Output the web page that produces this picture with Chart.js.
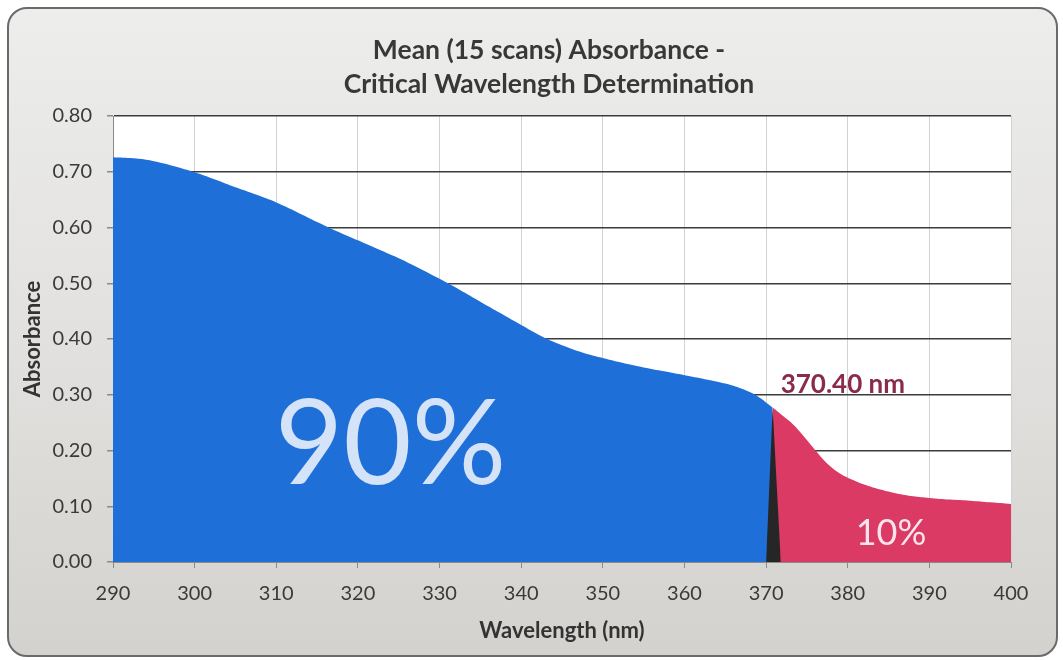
<!DOCTYPE html>
<html><head><meta charset="utf-8">
<script src="https://cdn.jsdelivr.net/npm/chart.js@4.4.1/dist/chart.umd.min.js"></script>
<style>
html,body{margin:0;padding:0;background:#fff;overflow:hidden;width:1063px;height:660px;}
#frame{position:absolute;left:7px;top:7px;width:1051px;height:650px;box-sizing:border-box;border:2px solid #6a6a6a;border-radius:20px;background:linear-gradient(180deg,#ededec 0%,#e1e0de 55%,#d4d2ce 100%);}
#wrap{position:absolute;left:10px;top:10px;width:1078px;height:644px;}
</style></head><body>
<div id="frame"></div>
<div id="wrap"><canvas id="c"></canvas></div>
<script>
// ---- data ----
const wavelengthsBlue = [290, 292.5, 295, 297.5, 300, 302.5, 305, 307.5, 310, 312.5, 315, 317.5, 320, 322.5, 325, 327.5, 330, 332.5, 335, 337.5, 340, 342.5, 345, 347.5, 350, 352.5, 355, 357.5, 360, 362.5, 365, 367.5, 369, 370.8];
const absorbanceBlue = [0.726, 0.724, 0.719, 0.710, 0.699, 0.686, 0.672, 0.659, 0.645, 0.628, 0.610, 0.593, 0.577, 0.561, 0.545, 0.527, 0.508, 0.488, 0.467, 0.446, 0.425, 0.405, 0.389, 0.376, 0.366, 0.357, 0.349, 0.342, 0.335, 0.328, 0.320, 0.308, 0.297, 0.277];
const wavelengthsRed = [370.8, 372, 373, 374, 375, 376, 377, 378, 379, 380, 381, 382, 384, 386, 388, 390, 392.5, 395, 397.5, 400];
const absorbanceRed = [0.277, 0.263, 0.251, 0.236, 0.219, 0.201, 0.184, 0.170, 0.159, 0.151, 0.145, 0.139, 0.130, 0.123, 0.118, 0.115, 0.112, 0.110, 0.107, 0.104];
const wedgeWavelengths = [370.0, 370.8, 371.8];
const wedgeAbsorbance = [0, 0.277, 0];
const xTickValues = [290, 300, 310, 320, 330, 340, 350, 360, 370, 380, 390, 400];
const yTickValues = [0.0, 0.1, 0.2, 0.3, 0.4, 0.5, 0.6, 0.7, 0.8];
const titleLines = ['Mean (15 scans) Absorbance -', 'Critical Wavelength Determination'];
const xAxisTitle = 'Wavelength (nm)';
const yAxisTitle = 'Absorbance';
const annotationTexts = ['90%', '10%', '370.40 nm'];
const annotationX = [324, 385.3, 379.4];
const annotationY = [0.209, 0.051, 0.318];

const toPoints = (xs, ys) => xs.map((x, i) => ({x: x, y: ys[i]}));

const annotationStyles = [
  {font: '118px Lato', color: 'rgba(232,240,252,0.9)'},
  {font: '36px Lato', color: 'rgba(250,238,243,0.95)'},
  {font: 'bold 26px Lato', color: '#8a2b4c'}
];

const plotBg = {
  id: 'plotBg',
  beforeDraw(chart) {
    const {ctx, chartArea: a} = chart;
    ctx.save();
    ctx.fillStyle = '#ffffff';
    ctx.fillRect(a.left, a.top, a.right - a.left, a.bottom - a.top);
    ctx.restore();
  }
};

const labels = {
  id: 'labels',
  afterDatasetsDraw(chart) {
    const {ctx, scales: {x, y}} = chart;
    ctx.save();
    ctx.textAlign = 'center';
    ctx.textBaseline = 'middle';
    annotationTexts.forEach((t, i) => {
      ctx.font = annotationStyles[i].font;
      ctx.fillStyle = annotationStyles[i].color;
      ctx.fillText(t, x.getPixelForValue(annotationX[i]), y.getPixelForValue(annotationY[i]));
    });
    ctx.restore();
  }
};

new Chart(document.getElementById('c'), {
  type: 'line',
  data: {
    datasets: [
      {data: toPoints(wedgeWavelengths, wedgeAbsorbance), fill: 'origin', backgroundColor: '#262626', borderColor: 'transparent', borderWidth: 0, pointRadius: 0, tension: 0, order: 0},
      {data: toPoints(wavelengthsBlue, absorbanceBlue), fill: 'origin', backgroundColor: '#1f6fd8', borderColor: 'transparent', borderWidth: 0, pointRadius: 0, tension: 0.4, order: 1},
      {data: toPoints(wavelengthsRed, absorbanceRed), fill: 'origin', backgroundColor: '#da3a64', borderColor: 'transparent', borderWidth: 0, pointRadius: 0, tension: 0.4, order: 1}
    ]
  },
  options: {
    responsive: true,
    maintainAspectRatio: false,
    animation: false,
    layout: {padding: 0},
    plugins: {
      legend: {display: false},
      tooltip: {enabled: false},
      title: {
        display: true,
        text: titleLines,
        color: '#383838',
        font: {family: 'Lato', size: 26.5, weight: 'bold', lineHeight: '34px'},
        padding: {top: 23, bottom: 15}
      }
    },
    scales: {
      x: {
        type: 'linear',
        min: 290, max: 400,
        afterBuildTicks: (s) => { s.ticks = xTickValues.map(v => ({value: v})); },
        afterFit: (s) => { s.height = 92; },
        ticks: {color: '#3a3a3a', font: {family: 'Lato', size: 20}, padding: 14, maxRotation: 0},
        grid: {color: '#d2d2d2', lineWidth: 1, tickLength: 6, tickColor: '#8a8a8a'},
        border: {color: '#8a8a8a', width: 1},
        title: {display: true, text: xAxisTitle, color: '#333', font: {family: 'Lato', size: 22, weight: 'bold'}, padding: {top: 0, bottom: 10}}
      },
      y: {
        min: 0, max: 0.8,
        afterBuildTicks: (s) => { s.ticks = yTickValues.map(v => ({value: v})); },
        afterFit: (s) => { s.width = 103; },
        ticks: {color: '#3a3a3a', font: {family: 'Lato', size: 20}, padding: 15, callback: (v) => Number(v).toFixed(2)},
        grid: {color: '#3c3c3c', lineWidth: 1.5, tickLength: 6, tickColor: '#8a8a8a'},
        border: {color: '#8a8a8a', width: 1},
        title: {display: true, text: yAxisTitle, color: '#333', font: {family: 'Lato', size: 22, weight: 'bold'}, padding: {top: 10, bottom: 0}}
      },
      ySpacer: {
        type: 'linear',
        position: 'right',
        min: 0, max: 0.8,
        afterFit: (s) => { s.width = 77; },
        ticks: {display: false},
        grid: {display: false, drawOnChartArea: false},
        border: {display: false},
        title: {display: false}
      }
    }
  },
  plugins: [plotBg, labels]
});
</script>
</body></html>
